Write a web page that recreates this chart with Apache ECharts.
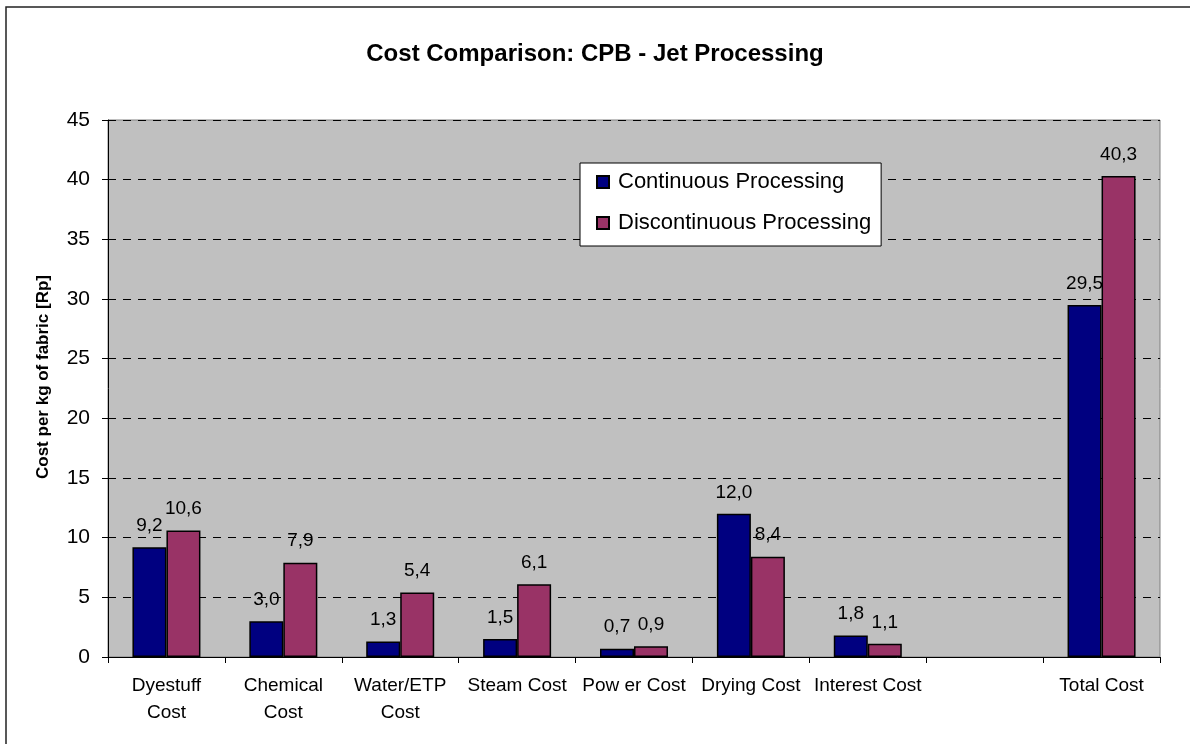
<!DOCTYPE html>
<html>
<head>
<meta charset="utf-8">
<script src="https://cdn.jsdelivr.net/npm/echarts@6/dist/echarts.min.js"></script>
<style>
html,body{margin:0;padding:0;background:#fff;}
#chart{width:1190px;height:744px;}
</style>
</head>
<body>
<div id="chart"></div>
<script>
var categories = ["Dyestuff\nCost", "Chemical\nCost", "Water/ETP\nCost", "Steam Cost", "Pow er Cost", "Drying Cost", "Interest Cost", "", "Total Cost"];
var continuous = [9.2, 3.0, 1.3, 1.5, 0.7, 12.0, 1.8, null, 29.5];
var discontinuous = [10.6, 7.9, 5.4, 6.1, 0.9, 8.4, 1.1, null, 40.3];
var seriesNames = ["Continuous Processing", "Discontinuous Processing"];
var titleText = "Cost Comparison: CPB - Jet Processing";
var yAxisTitle = "Cost per kg of fabric [Rp]";

var FONT = "'Liberation Sans', Arial, sans-serif";
var chart = echarts.init(document.getElementById('chart'));

function labelFmt(p) {
  if (p.value == null) return '';
  return p.value.toFixed(1).replace('.', ',');
}

var barLabel = {
  show: true,
  position: 'top',
  distance: 12,
  color: '#000',
  fontFamily: FONT,
  fontSize: 19,
  formatter: labelFmt
};

chart.setOption({
  animation: false,
  backgroundColor: '#fff',
  title: {
    text: titleText,
    left: 'center',
    top: 37,
    textStyle: { fontFamily: FONT, fontSize: 24, fontWeight: 'bold', color: '#000' }
  },
  legend: {
    orient: 'vertical',
    left: 580,
    top: 163,
    backgroundColor: '#fff',
    borderColor: '#000',
    borderWidth: 1,
    padding: [8, 10, 12, 16],
    itemGap: 19,
    itemWidth: 12,
    itemHeight: 12,
    icon: 'rect',
    textStyle: { fontFamily: FONT, fontSize: 22, color: '#000', padding: [0, 0, 0, 4] },
    data: seriesNames
  },
  graphic: [
    {
      type: 'rect',
      shape: { x: 6, y: 7, width: 1250, height: 800 },
      style: { fill: 'none', stroke: '#222', lineWidth: 1.5 },
      silent: true
    },
    {
      type: 'text',
      x: 43,
      y: 377,
      rotation: Math.PI / 2,
      style: {
        text: yAxisTitle,
        font: 'bold 17px ' + FONT,
        fill: '#000',
        textAlign: 'center',
        textVerticalAlign: 'middle'
      }
    }
  ],
  grid: {
    left: 108,
    right: 30,
    top: 120,
    bottom: 87,
    show: true,
    backgroundColor: '#C0C0C0',
    borderColor: '#808080',
    borderWidth: 1
  },
  xAxis: {
    type: 'category',
    data: categories,
    boundaryGap: true,
    axisLine: { lineStyle: { color: '#000', width: 1 } },
    axisTick: { show: true, alignWithLabel: false, length: 6, lineStyle: { color: '#000' } },
    axisLabel: {
      interval: 0,
      margin: 15,
      color: '#000',
      fontFamily: FONT,
      fontSize: 19,
      lineHeight: 27
    },
    splitLine: { show: false }
  },
  yAxis: {
    type: 'value',
    min: 0,
    max: 45,
    interval: 5,
    axisLine: { show: true, lineStyle: { color: '#000', width: 1 } },
    axisTick: { show: true, inside: false, length: 6, lineStyle: { color: '#000' } },
    axisLabel: { margin: 18, color: '#000', fontFamily: FONT, fontSize: 21 },
    splitLine: { show: true, lineStyle: { color: '#000', type: [8, 7], width: 1 } }
  },
  series: [
    {
      name: seriesNames[0],
      type: 'bar',
      data: continuous,
      barWidth: 34,
      barGap: '0%',
      itemStyle: { color: '#000080', borderColor: '#000', borderWidth: 1.5 },
      label: barLabel
    },
    {
      name: seriesNames[1],
      type: 'bar',
      data: discontinuous,
      barWidth: 34,
      barGap: '0%',
      itemStyle: { color: '#993366', borderColor: '#000', borderWidth: 1.5 },
      label: barLabel
    }
  ]
});
</script>
</body>
</html>
